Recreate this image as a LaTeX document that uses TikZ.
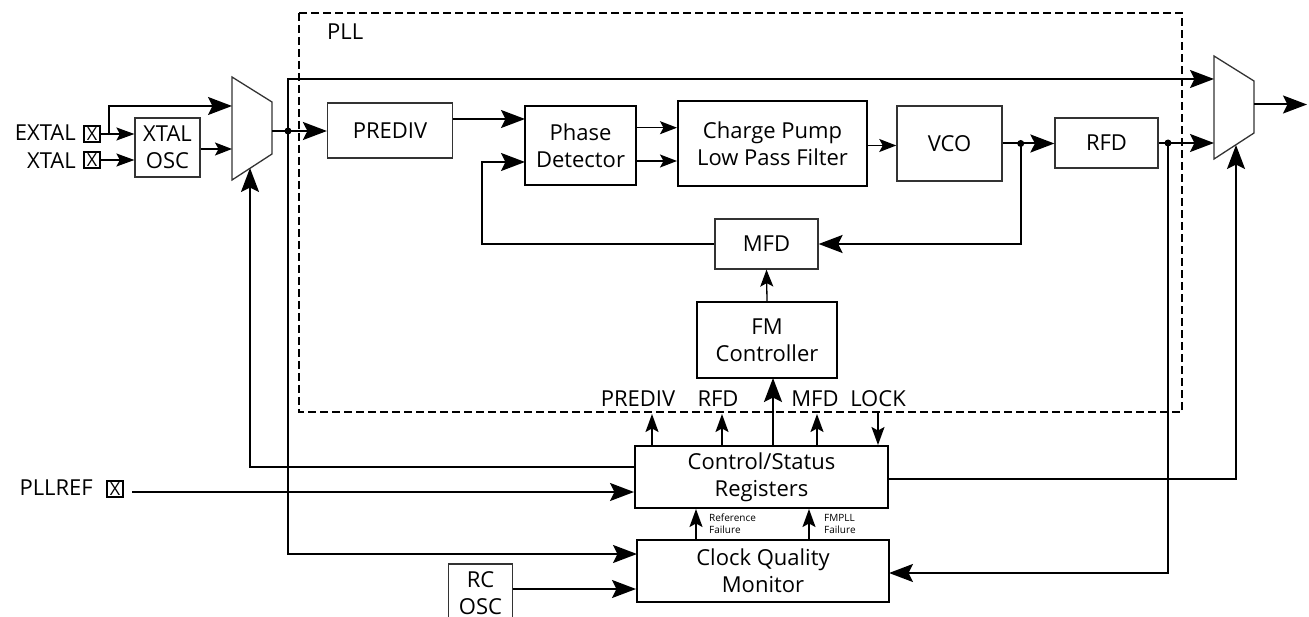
\documentclass[tikz,border=0pt]{standalone}
\usepackage{fontspec}
\setmainfont{Open Sans}
\usetikzlibrary{arrows.meta}
\newcommand{\mfs}{\fontsize{22}{26.7}\selectfont}
\newcommand{\sfs}{\fontsize{10}{12}\selectfont}
\begin{document}
\begin{tikzpicture}[x=1pt,y=-1pt,
  thinbox/.style={draw=black!80,line width=1.2pt,inner sep=0pt,align=center,font=\mfs},
  thickbox/.style={draw=black,line width=2pt,inner sep=0pt,align=center,font=\mfs},
  lbl/.style={inner sep=0pt,font=\mfs},
  slbl/.style={inner sep=0pt,font=\sfs,align=left},
  pad/.style={draw,line width=1.6pt,minimum size=16pt,inner sep=0pt,font=\fontsize{18}{18}\selectfont},
  big/.style={line width=2pt,-{Stealth[length=24pt,width=18pt,inset=4.5pt]}},
  med/.style={line width=1.6pt,-{Stealth[length=18pt,width=13pt,inset=3.5pt]}},
  small/.style={line width=1.3pt,-{Stealth[length=17pt,width=13pt,inset=3.5pt]}},
  dotc/.style={circle,fill,inner sep=0pt,minimum size=7pt},
  mux/.style={draw=black!80,line width=1.3pt},
  pllbox/.style={draw,line width=1.2pt,dash pattern=on 8pt off 4pt}
]
\useasboundingbox (0,0) rectangle (1309,617);
\clip (0,0) rectangle (1309,617);

% PLL dashed region
\draw[pllbox] (299,13) rectangle (1182,412);
\node[lbl,anchor=west] (plllbl) at (327,32) {PLL};

% pads and labels
\node[pad] (expad) at (92,134) {X};
\node[lbl,anchor=east] (exlbl) at (76,133) {EXTAL};
\node[pad] (xpad) at (92,160) {X};
\node[lbl,anchor=east] (xlbl) at (76,161) {XTAL};
\node[pad] (ppad) at (115,489) {X};
\node[lbl,anchor=east] (plbl) at (93,488) {PLLREF};

% blocks
\node[thinbox,minimum width=65pt,minimum height=59pt] (osc) at (167.5,147.5) {XTAL\\OSC};
\node[thinbox,minimum width=125pt,minimum height=55pt] (prediv) at (390,130.5) {PREDIV};
\node[thickbox,minimum width=111pt,minimum height=79pt] (pd) at (580.5,145.5) {Phase\\Detector};
\node[thickbox,minimum width=189pt,minimum height=85pt] (cp) at (772.5,143.5) {Charge Pump\\Low Pass Filter};
\node[thinbox,line width=1.5pt,minimum width=105pt,minimum height=75pt] (vco) at (949.5,143.5) {VCO};
\node[thinbox,minimum width=103pt,minimum height=50pt] (rfd) at (1106.5,143) {RFD};
\node[thinbox,minimum width=103pt,minimum height=50pt] (mfd) at (766.5,244) {MFD};
\node[thickbox,minimum width=140pt,minimum height=76pt] (fm) at (767,340) {FM\\Controller};
\node[thickbox,minimum width=253pt,minimum height=62pt] (csr) at (761.5,477) {Control/Status\\Registers};
\node[thickbox,minimum width=252pt,minimum height=62pt] (cqm) at (763,571) {Clock Quality\\Monitor};
\node[lbl,align=center] (rcosc) at (480.5,593) {RC\\OSC};
\draw[draw=black!80,line width=1.2pt] (448.5,640) -- (448.5,564) -- (512.5,564) -- (512.5,640);

% muxes
\draw[mux] (232,77) -- (272,102) -- (272,154) -- (232,180) -- cycle;
\draw[mux] (1214,56) -- (1254,81) -- (1254,133) -- (1214,159) -- cycle;
\coordinate (lmuxA) at (232,106);
\coordinate (lmuxB) at (232,149);
\coordinate (lmuxO) at (272,131);
\coordinate (lmuxS) at (250,168);
\coordinate (rmuxA) at (1214,79);
\coordinate (rmuxB) at (1214,143);
\coordinate (rmuxO) at (1254,104.5);
\coordinate (rmuxS) at (1236,145);
\coordinate (outc) at (1307,104.5);

% helper coordinates
\coordinate (br) at (109,134);
\coordinate (cqmA) at (637,554);
\coordinate (cqmR) at (889,573);
\coordinate (pdA) at (525,119);
\coordinate (pdB) at (525,162);
\coordinate (pdo1) at (636,127.7);
\coordinate (pdo2) at (636,161);
\coordinate (cpo) at (867,145.5);
\coordinate (fbk) at (482,244);
\coordinate (csrR) at (888,479);
\coordinate (csrRc) at (1236,479);
\coordinate (csrL) at (635,467);
\coordinate (csrLc) at (250,467);
\coordinate (pstart) at (132,492);
\coordinate (rcout) at (512.5,589);
\coordinate (tpre) at (652,414);
\coordinate (trfd) at (722,414);
\coordinate (tmfd) at (817,414);
\coordinate (tfm) at (773,378);
\coordinate (lockc) at (878,412);
\coordinate (cf1) at (696,540);
\coordinate (cf2) at (809,540);

% junction dots
\node[dotc] (d1) at (288,131) {};
\node[dotc] (d2) at (1020.7,143.5) {};
\node[dotc] (d3) at (1168,143) {};

% input side
\draw[med] (expad.east) -- (osc.west |- expad);
\draw[big] (br) -- (br |- lmuxA) -- (lmuxA);
\draw[med] (xpad.east) -- (osc.west |- xpad);
\draw[small] (osc.east |- lmuxB) -- (lmuxB);
\draw[big] (lmuxO) -- (prediv.west |- lmuxO);
\draw[big] (d1.center) -- (d1 |- rmuxA) -- (rmuxA);
\draw[big] (d1.center) -- (d1 |- cqmA) -- (cqmA);

% PLL internals
\draw[big] (prediv.east |- pdA) -- (pdA);
\draw[small] (pdo1) -- (cp.west |- pdo1);
\draw[small] (pdo2) -- (cp.west |- pdo2);
\draw[big] (mfd.west) -- (fbk) -- (fbk |- pdB) -- (pdB);
\draw[small] (cpo) -- (vco.west |- cpo);
\draw[big] (vco.east |- d2) -- (rfd.west |- d2);
\draw[big] (d2.center) -- (d2 |- mfd) -- (mfd.east);
\draw[big] (rfd.east |- d3) -- (rmuxB);
\draw[big] (d3.center) -- (d3 |- cqmR) -- (cqmR);
\draw[big] (rmuxO) -- (outc);
\draw[small] (fm.north) -- (mfd.south);

% control
\draw[big] (csrR) -- (csrRc) -- (rmuxS);
\draw[big] (csrL) -- (csrLc) -- (lmuxS);
\draw[big] (pstart) -- (csr.west |- pstart);
\draw[big] (rcout) -- (cqm.west |- rcout);
\draw[big,line width=2.5pt] (csr.north -| tfm) -- (tfm);
\draw[med] (csr.north -| tpre) -- (tpre);
\draw[med] (csr.north -| trfd) -- (trfd);
\draw[med] (csr.north -| tmfd) -- (tmfd);
\draw[med] (lockc) -- (csr.north -| lockc);
\draw[med] (cf1) -- (csr.south -| cf1);
\draw[med] (cf2) -- (csr.south -| cf2);

% labels
\node[lbl] (lpre) at (638,399) {PREDIV};
\node[lbl] (lrfd) at (718,399) {RFD};
\node[lbl] (lmfd) at (815,399) {MFD};
\node[lbl] (llock) at (878,399) {LOCK};
\node[slbl,anchor=west] (reff) at (709,524) {Reference\\Failure};
\node[slbl,anchor=west] (fmf) at (824,524) {FMPLL\\Failure};
\end{tikzpicture}
\end{document}
